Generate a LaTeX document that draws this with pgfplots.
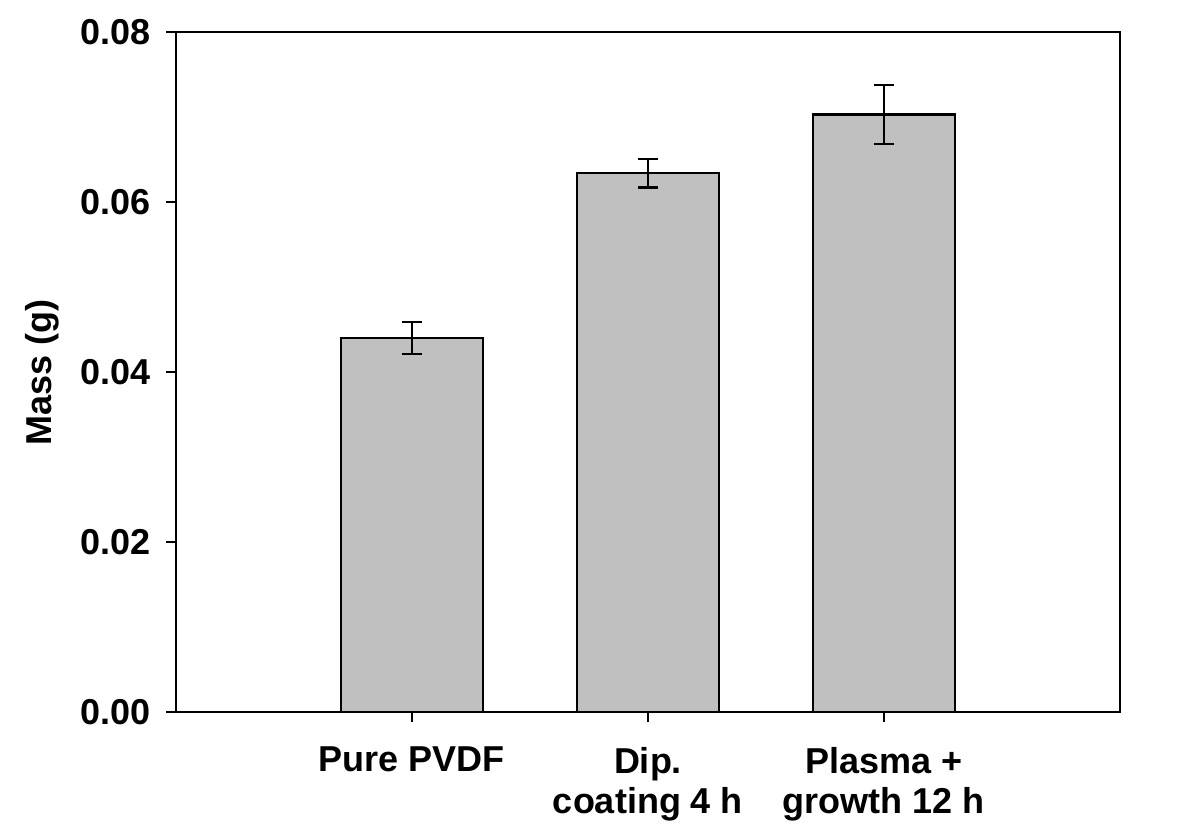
\documentclass[border=0pt]{standalone}
\usepackage{pgfplots}
\pgfplotsset{compat=1.18}
\usepackage{fontspec}
\setmainfont{Liberation Sans}

\begin{document}
\begin{tikzpicture}
\useasboundingbox (-88pt,-57pt) rectangle (512.5pt,356pt);
\begin{axis}[
  scale only axis,
  width=472pt, height=340pt,
  xmin=-1, xmax=3,
  ymin=0, ymax=0.08,
  ytick={0,0.02,0.04,0.06,0.08},
  xtick={0,1,2},
  xticklabels={Pure PVDF, {Dip.\\coating 4 h}, {Plasma +\\growth 12 h}},
  tick align=outside,
  major tick length=5pt,
  xtick pos=bottom, ytick pos=left,
  axis line style={line width=1.2pt},
  every tick/.style={line width=1.2pt, black},
  /pgf/number format/assume math mode=true,
  yticklabel style={/pgf/number format/fixed, /pgf/number format/fixed zerofill,
    /pgf/number format/precision=2, font=\bfseries\fontsize{18}{20}\selectfont,
    xshift=-4pt},
  xticklabel style={align=center, font=\bfseries\fontsize{18}{20}\selectfont,
    yshift=-9pt},
  scaled y ticks=false,
  ylabel={Mass (g)},
  ylabel style={font=\bfseries\fontsize{18}{20}\selectfont, yshift=4pt},
  clip=false,
]
\addplot[ybar, bar width=0.6, fill={rgb,255:red,192;green,192;blue,192},
  draw=black, line width=1.1pt,
  error bars/.cd, y dir=both, y explicit,
  error bar style={line width=1.1pt, black},
  error mark options={rotate=90, mark size=5pt, line width=1.1pt, black}]
  coordinates {
    (0,0.0440) +- (0,0.0019)
    (1,0.0634) +- (0,0.0017)
    (2,0.0703) +- (0,0.0035)
  };
\end{axis}
\end{tikzpicture}
\end{document}
